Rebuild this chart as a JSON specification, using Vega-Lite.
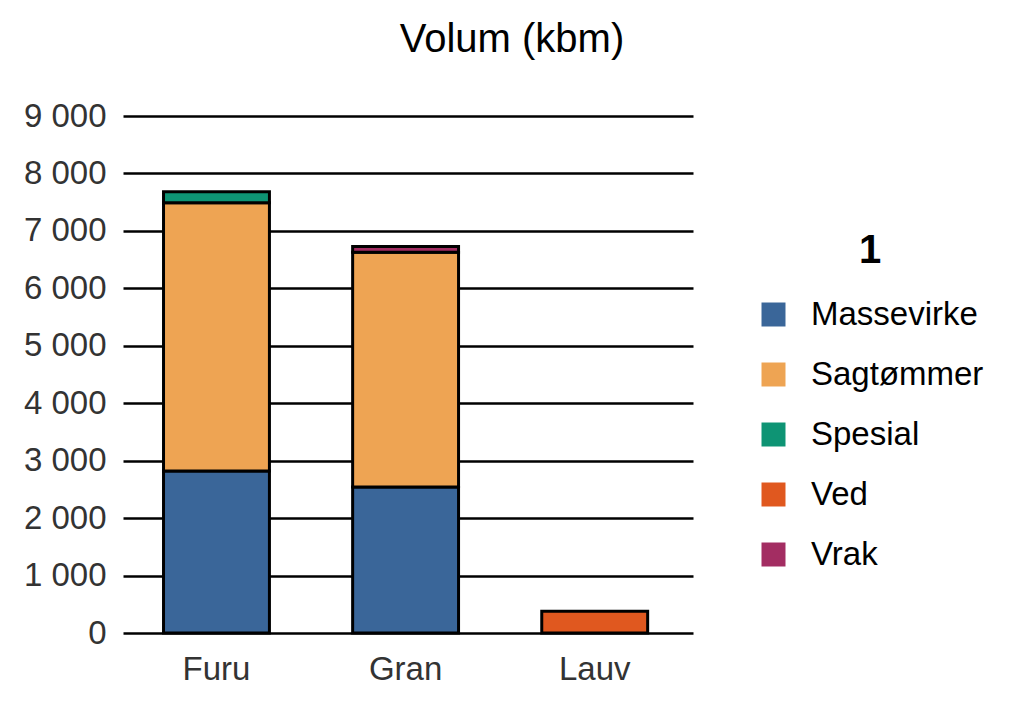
{
  "$schema": "https://vega.github.io/schema/vega-lite/v6.json",
  "width": 570,
  "height": 517,
  "autosize": "none",
  "padding": {"left": 123, "top": 116, "right": 331, "bottom": 80},
  "background": "white",
  "config": {
    "font": "Liberation Sans",
    "view": {"stroke": null},
    "locale": {"number": {"decimal": ",", "thousands": " ", "grouping": [3], "currency": ["", " kr"]}}
  },
  "title": {"text": "Volum (kbm)", "fontSize": 40, "fontWeight": "normal", "color": "black", "anchor": "middle", "dx": 104, "offset": 40, "font": "Liberation Sans"},
  "data": {"values": [
    {"treslag": "Furu", "sortiment": "Massevirke", "ord": 1, "volum": 2820},
    {"treslag": "Furu", "sortiment": "Sagtømmer", "ord": 2, "volum": 4670},
    {"treslag": "Furu", "sortiment": "Spesial", "ord": 3, "volum": 190},
    {"treslag": "Gran", "sortiment": "Massevirke", "ord": 1, "volum": 2540},
    {"treslag": "Gran", "sortiment": "Sagtømmer", "ord": 2, "volum": 4090},
    {"treslag": "Gran", "sortiment": "Vrak", "ord": 5, "volum": 100},
    {"treslag": "Lauv", "sortiment": "Ved", "ord": 4, "volum": 380}
  ]},
  "mark": {"type": "bar", "stroke": "black", "strokeWidth": 3},
  "encoding": {
    "x": {"field": "treslag", "type": "nominal", "title": null,
      "scale": {"paddingInner": 0.44, "paddingOuter": 0.227, "align": 0.472},
      "axis": {"labelAngle": 0, "labelFontSize": 33, "labelColor": "#333333", "domain": false, "ticks": false, "labelPadding": 20, "labelLimit": 300}},
    "y": {"field": "volum", "type": "quantitative", "aggregate": "sum", "title": null, "stack": "zero",
      "scale": {"domain": [0, 9000]},
      "axis": {"values": [0,1000,2000,3000,4000,5000,6000,7000,8000,9000], "format": ",d", "labelFontSize": 33, "labelColor": "#333333", "domain": false, "ticks": false, "labelPadding": 17, "grid": true, "gridColor": "black", "gridWidth": 2.4, "gridOpacity": 1}},
    "color": {"field": "sortiment", "type": "nominal",
      "scale": {"domain": ["Massevirke", "Sagtømmer", "Spesial", "Ved", "Vrak"], "range": ["#3a6699", "#eea453", "#0e9474", "#e0581f", "#a32d62"]},
      "legend": {"title": "1", "orient": "none", "legendX": 634, "legendY": 115, "titleFontSize": 40, "titleFontWeight": "bold", "titleColor": "black", "titleAnchor": "middle", "titlePadding": 27, "labelFontSize": 33, "labelColor": "black", "labelLimit": 400, "symbolType": "square", "symbolSize": 576, "symbolStrokeWidth": 0, "symbolOpacity": 1, "rowPadding": 26, "labelOffset": 21}},
    "order": {"field": "ord", "type": "quantitative"}
  }
}
